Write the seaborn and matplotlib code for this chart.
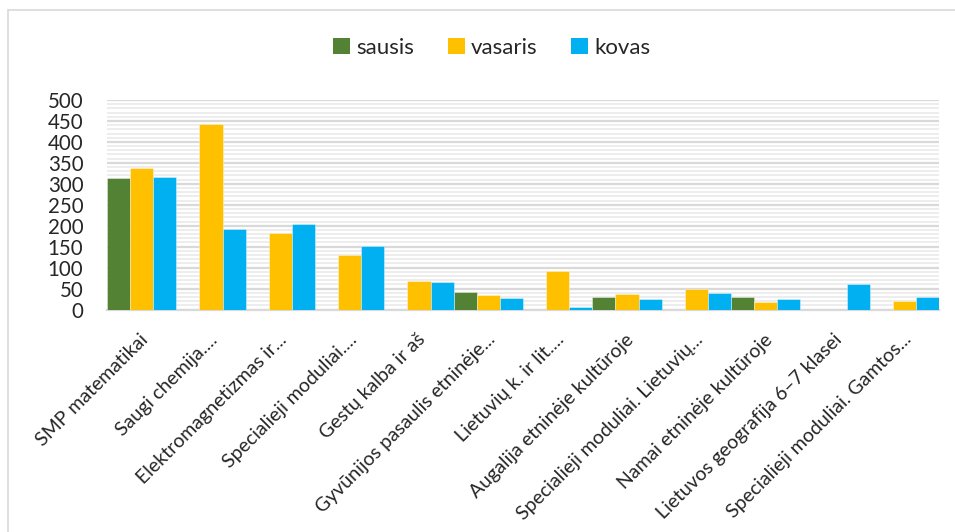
import numpy as np
import pandas as pd
import matplotlib
matplotlib.use("Agg")
import matplotlib.pyplot as plt
from matplotlib.lines import Line2D
from matplotlib.patches import Patch
import seaborn as sns

# Course titles (as shown, truncated where long)
categories = [
    "SMP matematikai",
    "Saugi chemija....",
    "Elektromagnetizmas ir...",
    "Specialieji moduliai....",
    "Gestų kalba ir aš",
    "Gyvūnijos pasaulis etninėje...",
    "Lietuvių k. ir lit....",
    "Augalija etninėje kultūroje",
    "Specialieji moduliai. Lietuvių...",
    "Namai etninėje kultūroje",
    "Lietuvos geografija 6–7 klasei",
    "Specialieji moduliai. Gamtos...",
]

# Monthly counts; NaN where a course had no entry that month
sausis = [313, np.nan, np.nan, np.nan, np.nan, 41, np.nan, 30, np.nan, 30, np.nan, np.nan]
vasaris = [337, 442, 183, 131, 67, 34, 92, 37, 50, 19, np.nan, 21]
kovas = [317, 191, 204, 152, 66, 28, 5, 24, 40, 26, 62, 31]

months = ["sausis", "vasaris", "kovas"]
colors = ["#548235", "#FFC000", "#00B0F0"]
y_ticks = list(range(0, 501, 50))

df = pd.DataFrame({
    "kursas": categories * 3,
    "mėnuo": [m for m in months for _ in categories],
    "vertė": sausis + vasaris + kovas,
}).dropna()

sns.set_theme(style="white")
plt.rcParams["font.family"] = ["Lato", "DejaVu Sans"]

fig = plt.figure(figsize=(9.55, 5.32), dpi=100)
ax = fig.add_axes([107 / 955, 1 - 309.5 / 532, (939 - 107) / 955, (309.5 - 100) / 532])

sns.barplot(
    data=df, x="kursas", y="vertė", hue="mėnuo",
    order=categories, hue_order=months, palette=colors, saturation=1,
    width=1.0, errorbar=None, ax=ax, legend=False,
    edgecolor=(1, 1, 1, 0.45), linewidth=0.6, zorder=3,
)

ax.set_xlim(-0.5, len(categories) - 0.5)
ax.set_ylim(0, 500)
ax.set_yticks(y_ticks)
ax.set_yticklabels([str(v) for v in y_ticks], fontsize=14.8)
ax.set_yticks(range(0, 501, 10), minor=True)
ax.grid(axis="y", which="minor", color="#ececec", linewidth=1.3, zorder=0)
ax.grid(axis="y", which="major", color="#d9d9d9", linewidth=1.6, zorder=1)
ax.set_axisbelow(True)
ax.tick_params(axis="y", which="both", length=0, pad=17)
ax.tick_params(axis="x", length=0, pad=6)
ax.set_xlabel("")
ax.set_ylabel("")
for side in ["top", "right", "left"]:
    ax.spines[side].set_visible(False)
ax.spines["bottom"].set_color("#d9d9d9")
ax.spines["bottom"].set_linewidth(1.6)

ax.set_xticks(range(len(categories)))
ax.set_xticklabels(categories, rotation=45, ha="right", va="center",
                   rotation_mode="anchor", fontsize=14)
for lbl in ax.get_xticklabels():
    lbl.set_transform(lbl.get_transform() + matplotlib.transforms.ScaledTranslation(4 / 100, -19 / 100, fig.dpi_scale_trans))

handles = [Patch(facecolor=c, edgecolor="none") for c in colors]
fig.legend(handles, months, loc="center", bbox_to_anchor=(492 / 955, 1 - 48 / 532),
           ncol=3, frameon=False, fontsize=16, handlelength=0.75,
           handleheight=0.75, handletextpad=0.3, columnspacing=1.5)

# Chart area border (top and left edges)
fig.add_artist(Line2D([8 / 955, 1], [1 - 10 / 532, 1 - 10 / 532], color="#d9d9d9", linewidth=1.2))
fig.add_artist(Line2D([8 / 955, 8 / 955], [0, 1 - 10 / 532], color="#d9d9d9", linewidth=1.2))

fig.savefig("out.png", dpi=100)
